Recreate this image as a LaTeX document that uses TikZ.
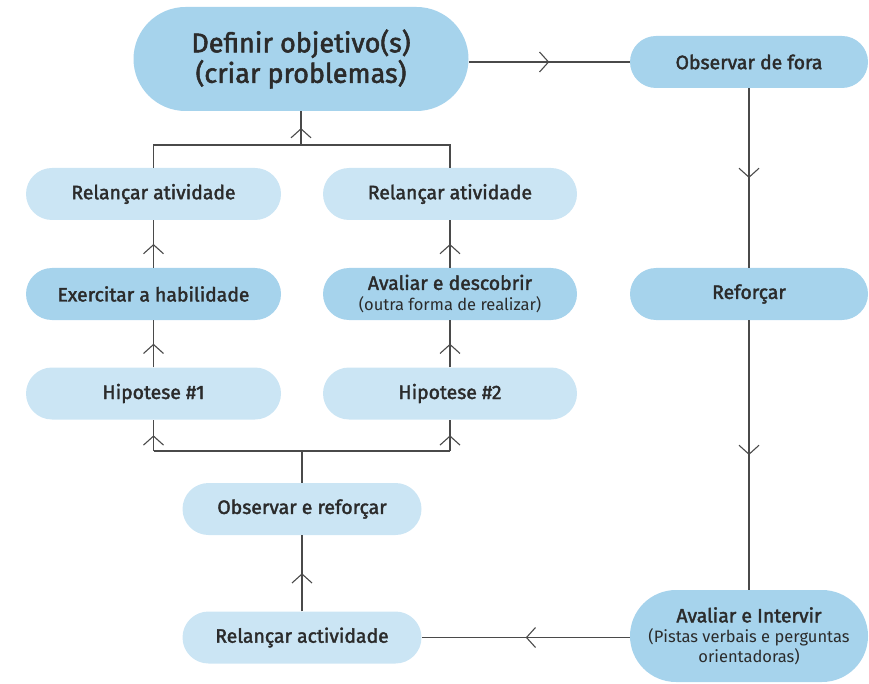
\documentclass[tikz,border=0pt]{standalone}
\usepackage{fontspec}
\setmainfont{Fira Sans}
\newfontfamily\medfont{Fira Sans}[FakeBold=2]
\usetikzlibrary{decorations.markings,arrows.meta,shapes.misc}
\definecolor{bmed}{HTML}{A6D3EC}
\definecolor{blight}{HTML}{CBE5F4}
\definecolor{lin}{HTML}{4A4A4A}
\definecolor{txt}{HTML}{2B2B2B}
\newcommand{\subtxt}[1]{{\normalfont\fontsize{16.5}{20}\selectfont #1}}
\begin{document}
\begin{tikzpicture}[x=1pt,y=-1pt,
  box/.style={rounded rectangle, minimum height=52pt, minimum width=255pt, text=txt, align=center, inner sep=0pt, font=\medfont\fontsize{19.4}{22}\selectfont},
  med/.style={box, fill=bmed},
  lite/.style={box, fill=blight},
  conn/.style={draw=lin, line width=1.1pt},
  midarr/.style={postaction={decorate,decoration={markings,mark=at position 0.5 with {\arrow[lin,line width=1.1pt]{Straight Barb[length=9pt,width=20pt]}}}}}
]
\useasboundingbox (0,0) rectangle (869,684);
\node[med, minimum width=335pt, minimum height=104pt, font=\medfont\fontsize{27}{30.5}\selectfont] (def) at (301,59) {Definir objetivo(s)\\(criar problemas)};
\node[med, minimum width=238pt] (fora) at (749,62) {Observar de fora};
\node[lite] (rl) at (153.5,194) {Relançar atividade};
\node[lite, minimum width=254pt] (rm) at (450,194) {Relançar atividade};
\node[med] (ex) at (153.5,294) {Exercitar a habilidade};
\node[med, minimum width=254pt] (av) at (450,294) {Avaliar e descobrir\\[-1pt]\subtxt{(outra forma de realizar)}};
\node[med, minimum width=238pt] (ref) at (749,294) {Reforçar};
\node[lite] (h1) at (153.5,393.5) {Hipotese \#1};
\node[lite, minimum width=254pt] (h2) at (450,393.5) {Hipotese \#2};
\node[lite, minimum width=239pt] (oer) at (302,509) {Observar e reforçar};
\node[lite, minimum width=239pt] (ra) at (302,637.5) {Relançar actividade};
\node[med, minimum width=238pt, minimum height=92pt] (ai) at (749,636) {Avaliar e Intervir\\[-2pt]\subtxt{(Pistas verbais e perguntas}\\[-2pt]\subtxt{orientadoras)}};
\coordinate (jt) at (301,145);
\coordinate (jl) at (153.5,145);
\coordinate (jr) at (450,145);
\coordinate (jb) at (302,451);
\coordinate (jbl) at (153.5,451);
\coordinate (jbr) at (450,451);
\draw[conn, midarr] (def.east |- fora.west) -- (fora.west);
\draw[conn, midarr] (fora.south) -- (ref.north);
\draw[conn, midarr] (ref.south) -- (ai.north);
\draw[conn, midarr] (ai.west |- ra.east) -- (ra.east);
\draw[conn, midarr] (ra.north) -- (oer.south);
\draw[conn] (oer.north) -- (jb);
\draw[conn] (jbl) -- (jbr);
\draw[conn, midarr] (jbl) -- (h1.south);
\draw[conn, midarr] (jbr) -- (h2.south);
\draw[conn, midarr] (h1.north) -- (ex.south);
\draw[conn, midarr] (h2.north) -- (av.south);
\draw[conn, midarr] (ex.north) -- (rl.south);
\draw[conn, midarr] (av.north) -- (rm.south);
\draw[conn] (rl.north) -- (jl) -- (jr) -- (rm.north);
\draw[conn, midarr] (jt) -- (def.south);
\end{tikzpicture}
\end{document}
